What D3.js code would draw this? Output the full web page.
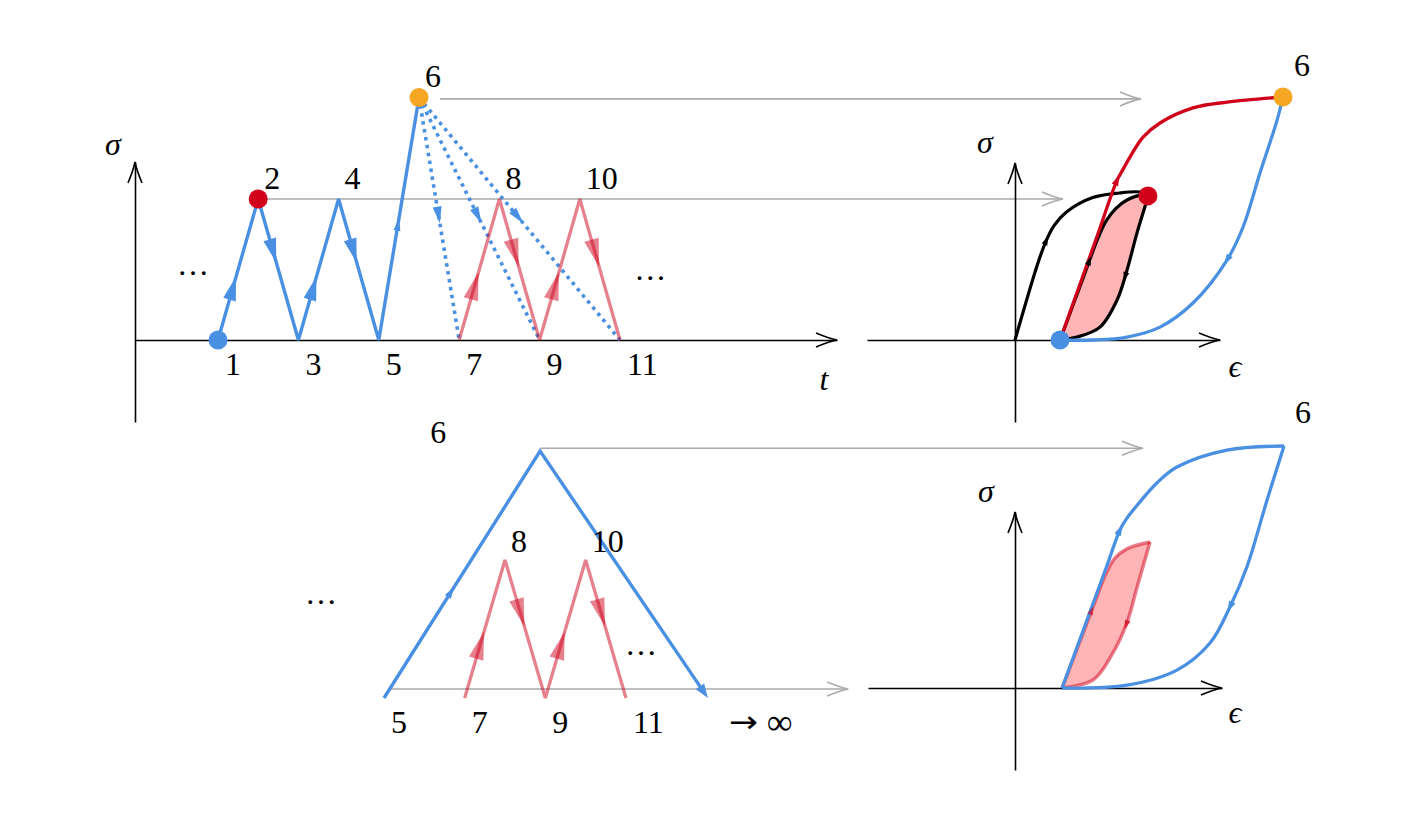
<!DOCTYPE html>
<html><head><meta charset="utf-8">
<script src="https://cdn.jsdelivr.net/npm/d3@7/dist/d3.min.js"></script>
<style>
body{margin:0;background:#fff}
svg{display:block}
text{font-family:"Liberation Serif","DejaVu Serif",serif;font-size:32px;fill:#000}
.it{font-style:italic}
</style>
</head><body>
<svg id="c" width="1404" height="835"></svg>
<script>
// ===================== DATA =====================
// Top-left: stress history σ(t); [time index, σ level] (level 1 = peak of 2/4/8/10)
const tlBluePath = [[1,0],[2,1],[3,0],[4,1],[5,0],[6,1.72]];
const tlRedPath  = [[7,0],[8,1],[9,0],[10,1],[11,0]];
const tlDottedFrom = [6,1.72];
const tlDottedTo   = [[7,0],[9,0],[11,0]];
const tlLabels = [
  {t:1,s:0,txt:"1"},{t:2,s:1,txt:"2"},{t:3,s:0,txt:"3"},{t:4,s:1,txt:"4"},
  {t:5,s:0,txt:"5"},{t:6,s:1.72,txt:"6"},{t:7,s:0,txt:"7"},{t:8,s:1,txt:"8"},
  {t:9,s:0,txt:"9"},{t:10,s:1,txt:"10"},{t:11,s:0,txt:"11"}
];
const tlDots = [[0.38,0.48],[11.75,0.45]];
const tlStart = [1,0], tlRedDot = [2,1], tlOrangeDot = [6,1.72];

// Bottom-left: reordered history
const blBluePath = [[5,0],[8.87,1.79],[13.03,0]];
const blRedPath  = [[7,0],[8,1],[9,0],[10,1],[11,0]];
const blLabels = [
  {t:5,s:0,txt:"5"},{t:6,s:1.79,txt:"6"},{t:7,s:0,txt:"7"},{t:8,s:1,txt:"8"},
  {t:9,s:0,txt:"9"},{t:10,s:1,txt:"10"},{t:11,s:0,txt:"11"}
];
const blInfinity = {t:13.55,s:0,arrow:"\u2192",inf:"\u221E"};
const blDots = [[3.44,0.70],[11.37,0.33]];

// Top-right: σ–ε response; [ε, σ]
const rtVirgin   = [[0,0],[0.85,3.15],[1.15,4.05],[1.45,4.7],[1.9,5.25],[2.9,5.86],[3.9,6.05],[4.66,6.09],[4.96,5.97]];
const rtLoopUp   = [[1.68,0],[2.46,2.31],[3.1,4.2],[3.4,4.9],[3.75,5.4],[4.18,5.76],[4.78,5.97],[4.96,5.93]];
const rtLoopDown = [[4.96,5.93],[4.89,5.64],[4.55,4.40],[4.18,2.88],[3.81,1.65],[3.17,0.53],[2.31,0.12],[1.68,0]];
const rtRed      = [[1.68,0],[3.0,4.07],[3.81,6.58],[4.02,7.0],[4.3,7.55],[4.78,8.35],[5.41,8.93],[6.64,9.55],[7.91,9.79],[10,10]];
const rtBlue     = [[10,10],[9.78,9.05],[9.14,6.87],[8.51,4.65],[7.91,3.29],[6.64,1.52],[5.41,0.53],[4.18,0.12],[2.91,0],[1.68,0]];
const rtStart = [1.68,0], rtRedDot = [4.96,5.93], rtOrangeDot = [10,10];

// Bottom-right
const rbBlueUp   = [[1.75,0],[3.4,5.0],[3.9,6.53],[4.15,7.0],[4.54,7.55],[5.3,8.5],[6.02,9.13],[7.88,9.83],[10,10]];
const rbBlueDown = [[10,10],[9.37,7.77],[8.62,5.0],[7.99,3.35],[7.25,1.86],[6.02,0.74],[4.16,0.12],[1.75,0]];
const rbLoopUp   = [[1.75,0],[2.9,3.35],[3.35,4.65],[3.7,5.35],[4.16,5.75],[5.02,6.03]];
const rbLoopDown = [[5.02,6.03],[4.54,4.17],[4.16,2.69],[3.64,1.45],[2.9,0.33],[1.75,0]];

// Connectors (left panel point -> right panel ε)
const tlConnectors = [{t:6.52,s:1.71,e:4.7},{t:2,s:1,e:1.79}];
const blConnectors = [{t:8.87,s:1.81,e:4.76},{t:5.15,s:0.065,e:-6.2}];

// ===================== SCALES =====================
const xTL = d3.scaleLinear().domain([1,11]).range([218,620]);
const yTL = d3.scaleLinear().domain([0,1]).range([340,199]);
const xBL = d3.scaleLinear().domain([5,11]).range([384,626]);
const yBL = d3.scaleLinear().domain([0,1]).range([698,560]);
const xRT = d3.scaleLinear().domain([0,10]).range([1015,1283]);
const yRT = d3.scaleLinear().domain([0,10]).range([340,97]);
const xRB = d3.scaleLinear().domain([0,10]).range([1015,1284]);
const yRB = d3.scaleLinear().domain([0,10]).range([688,446]);

const C = {blue:"#4a90e2", red:"#d0021b", orange:"#f5a623", gray:"#aaaaaa", pink:"#ffb4b6", black:"#000"};
const svg = d3.select("#c");

// ===================== HELPERS =====================
function triangle(g, tip, dx, dy, len, w, fill, op){
  const L=Math.hypot(dx,dy), ux=dx/L, uy=dy/L, px=-uy, py=ux;
  const bx=tip[0]-ux*len, by=tip[1]-uy*len;
  g.append("path")
    .attr("d",`M${tip[0]},${tip[1]}L${bx+px*w/2},${by+py*w/2}L${bx-px*w/2},${by-py*w/2}Z`)
    .attr("fill",fill).attr("fill-opacity",op==null?1:op);
}
function chevron(g, tip, dx, dy, color, sw){
  const ang=Math.atan2(dy,dx)*180/Math.PI;
  g.append("path").attr("transform",`translate(${tip[0]},${tip[1]}) rotate(${ang})`)
    .attr("d","M-21,-7Q-8,-1.6 0,0Q-8,1.6 -21,7")
    .attr("fill","none").attr("stroke",color).attr("stroke-width",sw||1.5);
}
function arrowOnSeg(g, p0, p1, frac, len, w, fill, op){
  const tip=[p0[0]+(p1[0]-p0[0])*frac, p0[1]+(p1[1]-p0[1])*frac];
  triangle(g, tip, p1[0]-p0[0], p1[1]-p0[1], len, w, fill, op);
}
function arrowOnPath(g, node, target, len, w, fill, op){
  const total=node.getTotalLength(); let best=0, bd=1e12;
  for(let l=0;l<=total;l+=0.5){const p=node.getPointAtLength(l);const d=(p.x-target[0])**2+(p.y-target[1])**2;if(d<bd){bd=d;best=l;}}
  const a=node.getPointAtLength(Math.max(0,best-2)), b=node.getPointAtLength(Math.min(total,best+2));
  const dx=b.x-a.x, dy=b.y-a.y, L=Math.hypot(dx,dy);
  const p=node.getPointAtLength(best);
  triangle(g,[p.x+dx/L*len/2,p.y+dy/L*len/2],dx,dy,len,w,fill,op);
}
function hAxis(g, xs, lo, hi, y){
  const s=d3.scaleLinear().domain([lo,hi]).range([xs(lo),xs(hi)]);
  const a=g.append("g").attr("transform",`translate(0,${y})`)
    .call(d3.axisBottom(s).ticks(0).tickSizeOuter(0));
  a.select(".domain").attr("stroke","#000").attr("stroke-width",1.6);
  chevron(g,[xs(hi),y],1,0,"#000",1.6);
}
function vAxis(g, ys, lo, hi, x){
  const s=d3.scaleLinear().domain([lo,hi]).range([ys(lo),ys(hi)]);
  const a=g.append("g").attr("transform",`translate(${x},0)`)
    .call(d3.axisLeft(s).ticks(0).tickSizeOuter(0));
  a.select(".domain").attr("stroke","#000").attr("stroke-width",1.6);
  chevron(g,[x,ys(hi)],0,-1,"#000",1.6);
}
function text(g,x,y,t,cls,anchor){
  return g.append("text").attr("x",x).attr("y",y).attr("class",cls||null)
   .attr("text-anchor",anchor||"start").text(t);
}
const curve = d3.curveCatmullRom.alpha(0.5);

// ===================== CONNECTORS =====================
const gConn = svg.append("g");
tlConnectors.forEach(c=>{
  const x0=xTL(c.t), y=yTL(c.s), x1=xRT(c.e);
  gConn.append("line").attr("x1",x0).attr("x2",x1-1).attr("y1",y).attr("y2",y)
    .attr("stroke",C.gray).attr("stroke-width",1.6);
  chevron(gConn,[x1,y],1,0,C.gray,1.6);
});
blConnectors.forEach(c=>{
  const x0=xBL(c.t), y=yBL(c.s), x1=xRB(c.e);
  gConn.append("line").attr("x1",x0).attr("x2",x1-1).attr("y1",y).attr("y2",y)
    .attr("stroke",C.gray).attr("stroke-width",1.6);
  chevron(gConn,[x1,y],1,0,C.gray,1.6);
});

// ===================== TOP-LEFT =====================
const gTL = svg.append("g");
const axX = 135, axTop = 162;
hAxis(gTL, xTL, xTL.invert(axX), xTL.invert(837), yTL(0));
vAxis(gTL, yTL, yTL.invert(422), yTL.invert(axTop), axX);
text(gTL, axX-22, axTop-7, "σ","it","middle");
text(gTL, 837-13, yTL(0)+50, "t","it","middle");

const lineTL = d3.line().x(d=>xTL(d[0])).y(d=>yTL(d[1]));
tlDottedTo.forEach(d=>{
  const p0=[xTL(tlDottedFrom[0]),yTL(tlDottedFrom[1])], p1=[xTL(d[0]),yTL(d[1])];
  gTL.append("path").attr("d",lineTL([tlDottedFrom,d])).attr("fill","none")
    .attr("stroke",C.blue).attr("stroke-width",3.6).attr("stroke-dasharray","3.5 4.5");
  arrowOnSeg(gTL,p0,p1,0.52,17,9,C.blue,1);
});
gTL.append("path").attr("d",lineTL(tlRedPath)).attr("fill","none")
  .attr("stroke",C.red).attr("stroke-opacity",0.5).attr("stroke-width",3.3).attr("stroke-miterlimit",3);
for(let i=0;i<tlRedPath.length-1;i++){
  const p0=[xTL(tlRedPath[i][0]),yTL(tlRedPath[i][1])], p1=[xTL(tlRedPath[i+1][0]),yTL(tlRedPath[i+1][1])];
  arrowOnSeg(gTL,p0,p1,0.48,28,15,C.red,0.5);
}
gTL.append("path").attr("d",lineTL(tlBluePath)).attr("fill","none")
  .attr("stroke",C.blue).attr("stroke-width",3.4).attr("stroke-miterlimit",3);
for(let i=0;i<tlBluePath.length-1;i++){
  const p0=[xTL(tlBluePath[i][0]),yTL(tlBluePath[i][1])], p1=[xTL(tlBluePath[i+1][0]),yTL(tlBluePath[i+1][1])];
  if(i<4) arrowOnSeg(gTL,p0,p1,0.45,24,13,C.blue,1);
  else arrowOnSeg(gTL,p0,p1,0.5,12,7,C.blue,1);
}
[[tlStart,C.blue],[tlRedDot,C.red],[tlOrangeDot,C.orange]].forEach(([p,c])=>{
  gTL.append("circle").attr("cx",xTL(p[0])).attr("cy",yTL(p[1])).attr("r",9.5).attr("fill",c);
});
tlLabels.forEach(l=>{
  const x=xTL(l.t), y=yTL(l.s);
  if(l.s===0) text(gTL,x+7,y+35,l.txt); else text(gTL,x+6,y-10,l.txt);
});
tlDots.forEach(d=>text(gTL,xTL(d[0]),yTL(d[1])+3,"…",null,"middle"));

// ===================== BOTTOM-LEFT =====================
const gBL = svg.append("g");
const lineBL = d3.line().x(d=>xBL(d[0])).y(d=>yBL(d[1]));
gBL.append("path").attr("d",lineBL(blRedPath)).attr("fill","none")
  .attr("stroke",C.red).attr("stroke-opacity",0.5).attr("stroke-width",3.3).attr("stroke-miterlimit",3);
for(let i=0;i<blRedPath.length-1;i++){
  const p0=[xBL(blRedPath[i][0]),yBL(blRedPath[i][1])], p1=[xBL(blRedPath[i+1][0]),yBL(blRedPath[i+1][1])];
  arrowOnSeg(gBL,p0,p1,0.48,28,15,C.red,0.5);
}
{
  const pts=blBluePath.map(d=>[xBL(d[0]),yBL(d[1])]);
  const last=pts[pts.length-1], prev=pts[pts.length-2];
  const L=Math.hypot(last[0]-prev[0],last[1]-prev[1]);
  const trimmed=pts.slice(0,-1).concat([[last[0]-(last[0]-prev[0])/L*8,last[1]-(last[1]-prev[1])/L*8]]);
  gBL.append("path").attr("d",d3.line()(trimmed)).attr("fill","none")
    .attr("stroke",C.blue).attr("stroke-width",3.4);
  arrowOnSeg(gBL,pts[0],pts[1],0.45,12,7,C.blue,1);
  triangle(gBL,last,last[0]-prev[0],last[1]-prev[1],14,10,C.blue,1);
}
blLabels.forEach(l=>{
  const x=xBL(l.t), y=yBL(l.s);
  if(l.s===0) text(gBL,x+7,y+35,l.txt); else text(gBL,x+6,y-8,l.txt);
});
{
  const x=xBL(blInfinity.t), y=yBL(blInfinity.s)+36;
  text(gBL,x,y-2,blInfinity.arrow).style("font-family","'DejaVu Sans',sans-serif").style("font-size","30px")
    .attr("transform",`translate(${x},0) scale(1.15,1) translate(${-x},0)`);
  text(gBL,x+38,y,blInfinity.inf).style("font-size","36px");
}
blDots.forEach(d=>text(gBL,xBL(d[0]),yBL(d[1])+3,"…",null,"middle"));

// ===================== TOP-RIGHT =====================
const gRT = svg.append("g");
hAxis(gRT, xRT, xRT.invert(867), xRT.invert(1220), yRT(0));
vAxis(gRT, yRT, yRT.invert(422), yRT.invert(163), xRT(0));
text(gRT, xRT(0)-30, 163-10, "σ","it","middle");
text(gRT, 1220+15, yRT(0)+37, "ϵ","it","middle");
const lineRT = d3.line().x(d=>xRT(d[0])).y(d=>yRT(d[1])).curve(curve);
gRT.append("path").attr("d",lineRT(rtLoopUp)+"L"+lineRT(rtLoopDown).slice(1)+"Z")
  .attr("fill",C.pink).attr("stroke","none");
const pV=gRT.append("path").attr("d",lineRT(rtVirgin)).attr("fill","none").attr("stroke","#000").attr("stroke-width",3.2);
const pLU=gRT.append("path").attr("d",lineRT(rtLoopUp)).attr("fill","none").attr("stroke","#000").attr("stroke-width",3.2);
const pLD=gRT.append("path").attr("d",lineRT(rtLoopDown)).attr("fill","none").attr("stroke","#000").attr("stroke-width",3.2);
const pB=gRT.append("path").attr("d",lineRT(rtBlue)).attr("fill","none").attr("stroke",C.blue).attr("stroke-width",3.3);
const pR=gRT.append("path").attr("d",lineRT(rtRed)).attr("fill","none").attr("stroke",C.red).attr("stroke-width",3.3);
arrowOnPath(gRT,pV.node(),[xRT(1.12),yRT(4.12)],9,6,"#000",1);
arrowOnPath(gRT,pLU.node(),[xRT(2.72),yRT(3.29)],9,6,"#000",1);
arrowOnPath(gRT,pLD.node(),[xRT(4.1),yRT(2.6)],9,6,"#000",1);
arrowOnPath(gRT,pR.node(),[xRT(3.81),yRT(6.58)],11,7,C.red,1);
arrowOnPath(gRT,pB.node(),[xRT(7.91),yRT(3.29)],11,7,C.blue,1);
[[rtStart,C.blue],[rtRedDot,C.red],[rtOrangeDot,C.orange]].forEach(([p,c])=>{
  gRT.append("circle").attr("cx",xRT(p[0])).attr("cy",yRT(p[1])).attr("r",9.5).attr("fill",c);
});
text(gRT, xRT(10)+19, yRT(10)-21, "6", null, "middle");

// ===================== BOTTOM-RIGHT =====================
const gRB = svg.append("g");
hAxis(gRB, xRB, xRB.invert(868), xRB.invert(1222), yRB(0));
vAxis(gRB, yRB, yRB.invert(770), yRB.invert(512), xRB(0));
text(gRB, xRB(0)-29, 512-10, "σ","it","middle");
text(gRB, 1222+13, yRB(0)+35, "ϵ","it","middle");
const lineRB = d3.line().x(d=>xRB(d[0])).y(d=>yRB(d[1])).curve(curve);
gRB.append("path").attr("d",lineRB(rbLoopUp)+"L"+lineRB(rbLoopDown).slice(1)+"Z")
  .attr("fill",C.pink).attr("stroke","none");
const qLU=gRB.append("path").attr("d",lineRB(rbLoopUp)).attr("fill","none").attr("stroke",C.red).attr("stroke-opacity",0.5).attr("stroke-width",3.5);
const qLD=gRB.append("path").attr("d",lineRB(rbLoopDown)).attr("fill","none").attr("stroke",C.red).attr("stroke-opacity",0.5).attr("stroke-width",3.5);
const qBU=gRB.append("path").attr("d",lineRB(rbBlueUp)).attr("fill","none").attr("stroke",C.blue).attr("stroke-width",3.3);
const qBD=gRB.append("path").attr("d",lineRB(rbBlueDown)).attr("fill","none").attr("stroke",C.blue).attr("stroke-width",3.3);
arrowOnPath(gRB,qLU.node(),[xRB(2.8),yRB(3.22)],9,6,C.red,0.6);
arrowOnPath(gRB,qLD.node(),[xRB(4.16),yRB(2.6)],9,6,C.red,0.7);
arrowOnPath(gRB,qBU.node(),[xRB(3.9),yRB(6.53)],11,7,C.blue,1);
arrowOnPath(gRB,qBD.node(),[xRB(7.99),yRB(3.35)],11,7,C.blue,1);
text(gRB, xRB(10)+19, yRB(10)-23, "6", null, "middle");
</script>
</body></html>
